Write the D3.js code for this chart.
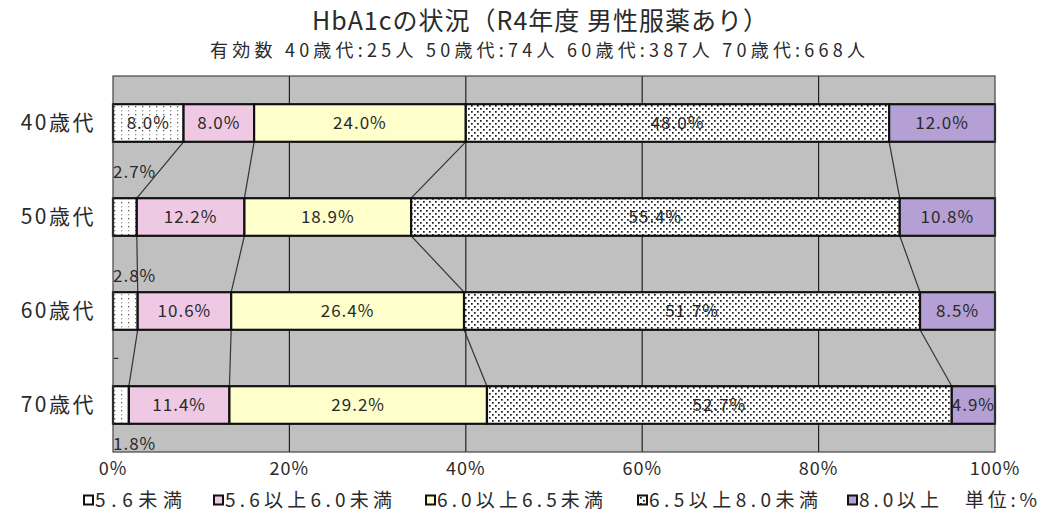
<!DOCTYPE html>
<html>
<head>
<meta charset="utf-8">
<script src="https://cdn.jsdelivr.net/npm/d3@7"></script>
<style>
  html, body { margin: 0; padding: 0; background: #fff; }
  svg text { font-family: "Noto Sans CJK JP", "Noto Sans", sans-serif; fill: #2a2a2a; }
</style>
</head>
<body>
<svg id="chart" width="1039" height="530"></svg>
<script>
// Age groups (rows) and HbA1c bands (stacked series)
const categories = ["40歳代", "50歳代", "60歳代", "70歳代"];
const seriesNames = ["5.6未満", "5.6以上6.0未満", "6.0以上6.5未満", "6.5以上8.0未満", "8.0以上"];
const under56   = [8.0, 2.7, 2.8, 1.8];
const from56    = [8.0, 12.2, 10.6, 11.4];
const from60    = [24.0, 18.9, 26.4, 29.2];
const from65    = [48.0, 55.4, 51.7, 52.7];
const over80    = [12.0, 10.8, 8.5, 4.9];
const xTicks = [0, 20, 40, 60, 80, 100];
const titleText = "HbA1cの状況（R4年度  男性服薬あり）";
const subtitleText = "有効数  40歳代:25人  50歳代:74人  60歳代:387人  70歳代:668人";
const unitText = "単位:%";

const seriesValues = [under56, from56, from60, from65, over80];

const svg = d3.select("#chart");
const plot = { left: 113, right: 995, top: 76, bottom: 452 };

// Fill patterns: sparse dots, dense diagonal dots
const defs = svg.append("defs");
const p1 = defs.append("pattern").attr("id", "dotsSparse").attr("patternUnits", "userSpaceOnUse")
  .attr("width", 7).attr("height", 8);
p1.append("rect").attr("width", 7).attr("height", 8).attr("fill", "#fff");
p1.append("rect").attr("x", 2).attr("y", 2).attr("width", 1.3).attr("height", 1.3).attr("fill", "#555");
p1.append("rect").attr("x", 2).attr("y", 6).attr("width", 1.3).attr("height", 1.3).attr("fill", "#999");
const p2 = defs.append("pattern").attr("id", "dotsDense").attr("patternUnits", "userSpaceOnUse")
  .attr("width", 6).attr("height", 6);
p2.append("rect").attr("width", 6).attr("height", 6).attr("fill", "#fff");
p2.append("rect").attr("x", 0).attr("y", 0).attr("width", 1.7).attr("height", 1.7).attr("fill", "#1a1a1a");
p2.append("rect").attr("x", 3).attr("y", 3).attr("width", 1.7).attr("height", 1.7).attr("fill", "#1a1a1a");

const fills = ["url(#dotsSparse)", "#efc9e3", "#ffffcc", "url(#dotsDense)", "#b4a0d4"];
const legendFills = ["#fff", "#efc9e3", "#ffffcc", "#fff", "#b4a0d4"];

const x = d3.scaleLinear().domain([0, 100]).range([plot.left, plot.right]);
const y = d3.scaleBand().domain(categories).range([plot.top, plot.bottom]).paddingInner(0.6).paddingOuter(0.3);

// Plot background
svg.append("rect").attr("x", plot.left).attr("y", plot.top)
  .attr("width", plot.right - plot.left).attr("height", plot.bottom - plot.top)
  .attr("fill", "#c0c0c0");

// Vertical gridlines
svg.append("g").selectAll("line").data(xTicks.slice(1, -1)).join("line")
  .attr("x1", d => x(d)).attr("x2", d => x(d))
  .attr("y1", plot.top).attr("y2", plot.bottom)
  .attr("stroke", "#222").attr("stroke-width", 1.2);

// Stack data
const rows = categories.map((c, i) => {
  const o = { cat: c };
  seriesNames.forEach((s, j) => o[s] = seriesValues[j][i]);
  return o;
});
const stacked = d3.stack().keys(seriesNames)(rows);

// Series connector lines between adjacent bars
const conn = svg.append("g");
for (let j = 0; j < seriesNames.length - 1; j++) {
  for (let i = 0; i < categories.length - 1; i++) {
    conn.append("line")
      .attr("x1", x(stacked[j][i][1])).attr("y1", y(categories[i]) + y.bandwidth())
      .attr("x2", x(stacked[j][i + 1][1])).attr("y2", y(categories[i + 1]))
      .attr("stroke", "#333").attr("stroke-width", 1.2);
  }
}

// Bars
const bars = svg.append("g");
stacked.forEach((layer, j) => {
  bars.selectAll(null).data(layer).join("rect")
    .attr("x", d => x(d[0]))
    .attr("y", (d, i) => y(categories[i]))
    .attr("width", d => x(d[1]) - x(d[0]))
    .attr("height", y.bandwidth())
    .attr("fill", fills[j])
    .attr("stroke", "#111").attr("stroke-width", 2.2);
});

// Value labels
const labels = svg.append("g").attr("font-size", 17).attr("letter-spacing", 1).attr("text-anchor", "middle");
const outsideOffset = [0, -26, -16, 20];
stacked.forEach((layer, j) => {
  layer.forEach((d, i) => {
    const v = seriesValues[j][i];
    const w = x(d[1]) - x(d[0]);
    const cy = y(categories[i]) + y.bandwidth() / 2;
    if (w > 30) {
      labels.append("text").attr("x", (x(d[0]) + x(d[1])) / 2).attr("y", cy)
        .attr("dy", "0.35em").text(v.toFixed(1) + "%");
    } else if (j === 0) {
      // Narrow first segment: label sits outside the bar
      const top = y(categories[i]);
      const below = i === categories.length - 1;
      labels.append("text").attr("text-anchor", "start")
        .attr("x", x(0))
        .attr("y", below ? top + y.bandwidth() + outsideOffset[i] : top + outsideOffset[i])
        .attr("dy", "0.35em").text(v.toFixed(1) + "%");
    } else {
      labels.append("text").attr("text-anchor", "end")
        .attr("x", x(d[1]) - 1).attr("y", cy)
        .attr("dy", "0.35em").text(v.toFixed(1) + "%");
    }
  });
});
// Stray dash label between the last two rows
labels.append("text").attr("text-anchor", "start").attr("x", x(0)).attr("y", 357)
  .attr("dy", "0.35em").attr("fill", "#555").text("-");

// Plot border
svg.append("rect").attr("x", plot.left).attr("y", plot.top)
  .attr("width", plot.right - plot.left).attr("height", plot.bottom - plot.top)
  .attr("fill", "none").attr("stroke", "#444").attr("stroke-width", 1.2);

// Category axis labels
svg.append("g").attr("font-size", 21).attr("letter-spacing", 2.5).attr("text-anchor", "end")
  .selectAll("text").data(categories).join("text")
  .attr("x", 96).attr("y", d => y(d) + y.bandwidth() / 2).attr("dy", "0.35em")
  .text(d => d);

// Percent axis labels
svg.append("g").attr("font-size", 18).attr("letter-spacing", 1).attr("text-anchor", "middle")
  .selectAll("text").data(xTicks).join("text")
  .attr("x", d => x(d)).attr("y", 469).attr("dy", "0.35em")
  .text(d => d + "%");

// Titles
svg.append("text").attr("x", 312).attr("y", 21).attr("dy", "0.35em")
  .attr("font-size", 25).attr("fill", "#1a1a1a")
  .attr("textLength", 456).attr("lengthAdjust", "spacing").text(titleText);
svg.append("text").attr("x", 210).attr("y", 51).attr("dy", "0.35em")
  .attr("font-size", 18)
  .attr("textLength", 655).attr("lengthAdjust", "spacing").text(subtitleText);

// Legend
const legendX = [83, 213, 425, 637, 847];
const legendW = [87, 167, 166, 169, 80];
const legend = svg.append("g").attr("font-size", 19);
seriesNames.forEach((s, j) => {
  const g = legend.append("g").attr("transform", `translate(${legendX[j]},500)`);
  g.append("rect").attr("x", 1).attr("y", -4.5).attr("width", 9).attr("height", 9)
    .attr("fill", j === 3 ? "url(#dotsDense)" : legendFills[j])
    .attr("stroke", "#111").attr("stroke-width", 2);
  g.append("text").attr("x", 12).attr("dy", "0.35em")
    .attr("textLength", legendW[j]).attr("lengthAdjust", "spacing").text(s);
});
legend.append("text").attr("x", 965).attr("y", 500).attr("dy", "0.35em")
  .attr("textLength", 72).attr("lengthAdjust", "spacing").text(unitText);
</script>
</body>
</html>
